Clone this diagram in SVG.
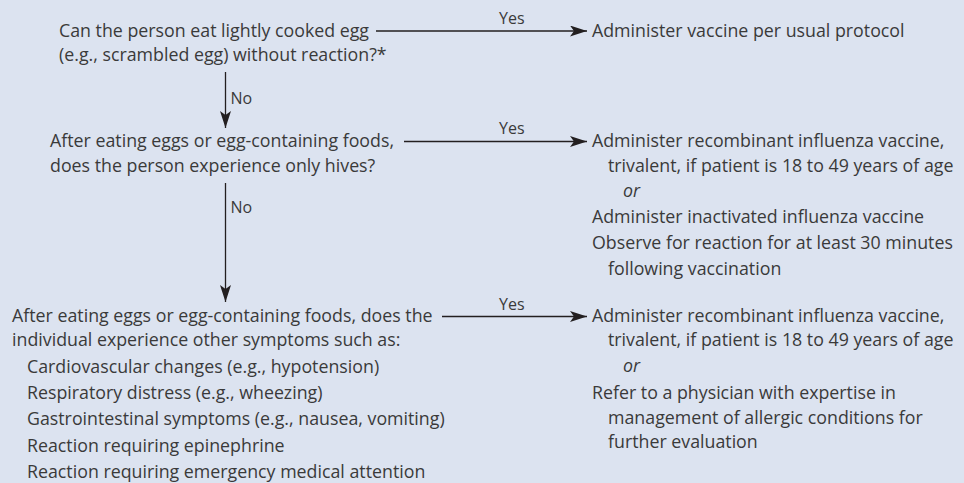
<svg xmlns="http://www.w3.org/2000/svg" width="964" height="483" viewBox="0 0 964 483">
<defs>
<style>
text{font-family:"Open Sans","Noto Sans","Liberation Sans",sans-serif;font-size:17.8px;fill:#3a3a3a}
.lbl{font-size:16px}
.it{font-style:italic}
.c{stroke:#231f20;stroke-width:1.3;fill:none}
</style>
<marker id="ah" markerWidth="17" markerHeight="11" refX="17" refY="5.5" orient="auto" markerUnits="userSpaceOnUse">
<path d="M0,0 L17,5.5 L0,11 L4,5.5 Z" fill="#231f20"/>
</marker>
</defs>
<rect width="964" height="483" fill="#dce3f0"/>
<g id="connectors">
<line class="c" x1="376" y1="31" x2="587" y2="31" marker-end="url(#ah)"/>
<line class="c" x1="404" y1="141.5" x2="587" y2="141.5" marker-end="url(#ah)"/>
<line class="c" x1="442" y1="316.5" x2="587" y2="316.5" marker-end="url(#ah)"/>
<line class="c" x1="225.5" y1="72" x2="225.5" y2="128" marker-end="url(#ah)"/>
<line class="c" x1="225.5" y1="183" x2="225.5" y2="302" marker-end="url(#ah)"/>
<text class="lbl" x="499" y="24">Yes</text>
<text class="lbl" x="499" y="134">Yes</text>
<text class="lbl" x="499" y="310">Yes</text>
<text class="lbl" x="230.5" y="104">No</text>
<text class="lbl" x="230.5" y="213">No</text>
</g>
<g id="q1">
<text x="59" y="37">Can the person eat lightly cooked egg</text>
<text x="59" y="61">(e.g., scrambled egg) without reaction?*</text>
</g>
<g id="a1">
<text x="592" y="37">Administer vaccine per usual protocol</text>
</g>
<g id="q2">
<text x="50" y="147">After eating eggs or egg-containing foods,</text>
<text x="50" y="172">does the person experience only hives?</text>
</g>
<g id="a2">
<text x="592" y="147">Administer recombinant influenza vaccine,</text>
<text x="608" y="172">trivalent, if patient is 18 to 49 years of age</text>
<text class="it" x="623" y="197">or</text>
<text x="592" y="223">Administer inactivated influenza vaccine</text>
<text x="592" y="249">Observe for reaction for at least 30 minutes</text>
<text x="608" y="275">following vaccination</text>
</g>
<g id="q3">
<text x="12" y="322">After eating eggs or egg-containing foods, does the</text>
<text x="12" y="346">individual experience other symptoms such as:</text>
<text x="27" y="373">Cardiovascular changes (e.g., hypotension)</text>
<text x="27" y="399">Respiratory distress (e.g., wheezing)</text>
<text x="27" y="425">Gastrointestinal symptoms (e.g., nausea, vomiting)</text>
<text x="27" y="452">Reaction requiring epinephrine</text>
<text x="27" y="478">Reaction requiring emergency medical attention</text>
</g>
<g id="a3">
<text x="592" y="322">Administer recombinant influenza vaccine,</text>
<text x="608" y="346">trivalent, if patient is 18 to 49 years of age</text>
<text class="it" x="623" y="372">or</text>
<text x="592" y="399">Refer to a physician with expertise in</text>
<text x="608" y="424">management of allergic conditions for</text>
<text x="608" y="448">further evaluation</text>
</g>
</svg>
